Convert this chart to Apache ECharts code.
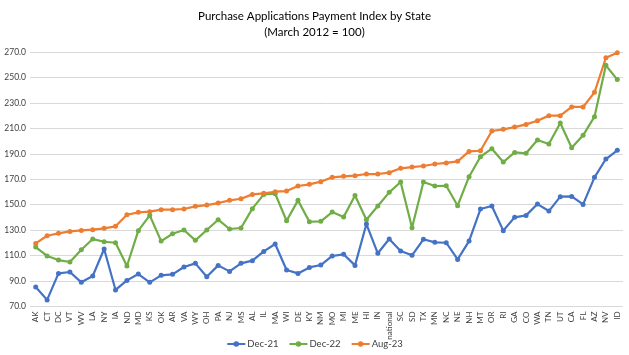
<!DOCTYPE html>
<html><head><meta charset="utf-8">
<script src="https://cdn.jsdelivr.net/npm/echarts@6/dist/echarts.min.js"></script>
<style>html,body{margin:0;padding:0;background:#fff}#c{width:629px;height:355px}</style>
</head><body><div id="c"></div>
<script>
const states = ["AK","CT","DC","VT","WV","LA","NY","IA","ND","MD","KS","OK","AR","VA","WY","OH","PA","NJ","MS","AL","IL","MA","WI","DE","KY","NM","MO","MI","ME","HI","IN","national","SC","SD","TX","MN","NC","NE","NH","MT","OR","RI","GA","CO","WA","TN","UT","CA","FL","AZ","NV","ID"];
const dec21 = [85.3,75.2,96.0,97.1,89.0,94.0,115.2,83.0,90.5,95.5,89.0,94.5,95.3,101.0,103.9,93.4,102.3,97.6,103.9,106.0,113.3,119.1,98.7,96.0,100.7,102.6,109.7,111.0,102.3,134.8,111.8,123.0,113.6,110.2,122.8,120.4,120.1,107.0,121.4,146.6,149.0,129.6,140.1,141.6,150.5,145.0,156.3,156.5,150.2,171.5,185.9,192.7];
const dec22 = [116.7,109.7,106.5,105.0,114.6,123.0,120.9,120.1,101.8,129.6,141.6,121.4,127.2,130.1,122.0,130.1,138.2,130.9,131.7,146.9,158.1,158.6,137.4,153.4,136.6,136.9,144.2,140.3,157.3,138.2,149.0,159.7,167.8,131.9,167.8,164.7,164.9,149.2,172.0,187.7,194.0,183.5,191.1,190.4,200.8,197.7,214.2,194.8,204.5,219.2,259.5,248.3];
const aug23 = [119.6,125.6,127.5,129.0,129.8,130.4,131.4,133.0,142.1,144.0,144.5,146.1,146.1,146.6,148.7,149.7,151.3,153.4,154.7,158.1,158.9,160.2,160.7,164.7,166.0,168.1,171.5,172.3,172.8,174.1,174.1,175.2,178.6,179.6,180.4,182.0,182.8,184.1,191.9,192.4,207.9,209.2,211.0,213.1,216.0,220.0,220.0,226.8,226.8,238.3,265.5,269.5];
const seriesNames = ["Dec-21","Dec-22","Aug-23"];
const colors = ["#4472C4","#70AD47","#ED7D31"];
const font = "Lato, 'Open Sans', sans-serif";
const chart = echarts.init(document.getElementById('c'), null, {renderer:'canvas'});
const mk = (name, data, color) => ({
  name, type:'line', data, color,
  symbol:'circle', symbolSize:5,
  lineStyle:{width:2.2, color},
  itemStyle:{color},
  emphasis:{disabled:true}
});
chart.setOption({
  animation:false,
  textStyle:{fontFamily:font},
  title:{
    text:'Purchase Applications Payment Index by State\n(March 2012 = 100)',
    left:'center', top:4,
    textStyle:{fontFamily:font, fontSize:11.5, fontWeight:'normal', color:'#000', lineHeight:15.5}
  },
  legend:{
    bottom:1, left:'center', itemWidth:18, itemHeight:7, itemGap:10,
    textStyle:{fontFamily:font, fontSize:9.5, color:'#404040', padding:[0,0,0,-3]},
    data:seriesNames
  },
  grid:{left:30, right:6, top:52, bottom:48.5, containLabel:false},
  xAxis:{
    type:'category', data:states, boundaryGap:true,
    axisLine:{show:false}, axisTick:{show:false},
    axisLabel:{rotate:90, interval:0, fontSize:8, color:'#404040', margin:5, fontFamily:font}
  },
  yAxis:{
    type:'value', min:70, max:270, interval:20,
    axisLine:{show:false}, axisTick:{show:false},
    axisLabel:{formatter:v=>v.toFixed(1), fontSize:8.5, color:'#404040', margin:4, fontFamily:font},
    splitLine:{lineStyle:{color:'#d9d9d9', width:1}}
  },
  series:[mk(seriesNames[0],dec21,colors[0]), mk(seriesNames[1],dec22,colors[1]), mk(seriesNames[2],aug23,colors[2])]
});
</script></body></html>
